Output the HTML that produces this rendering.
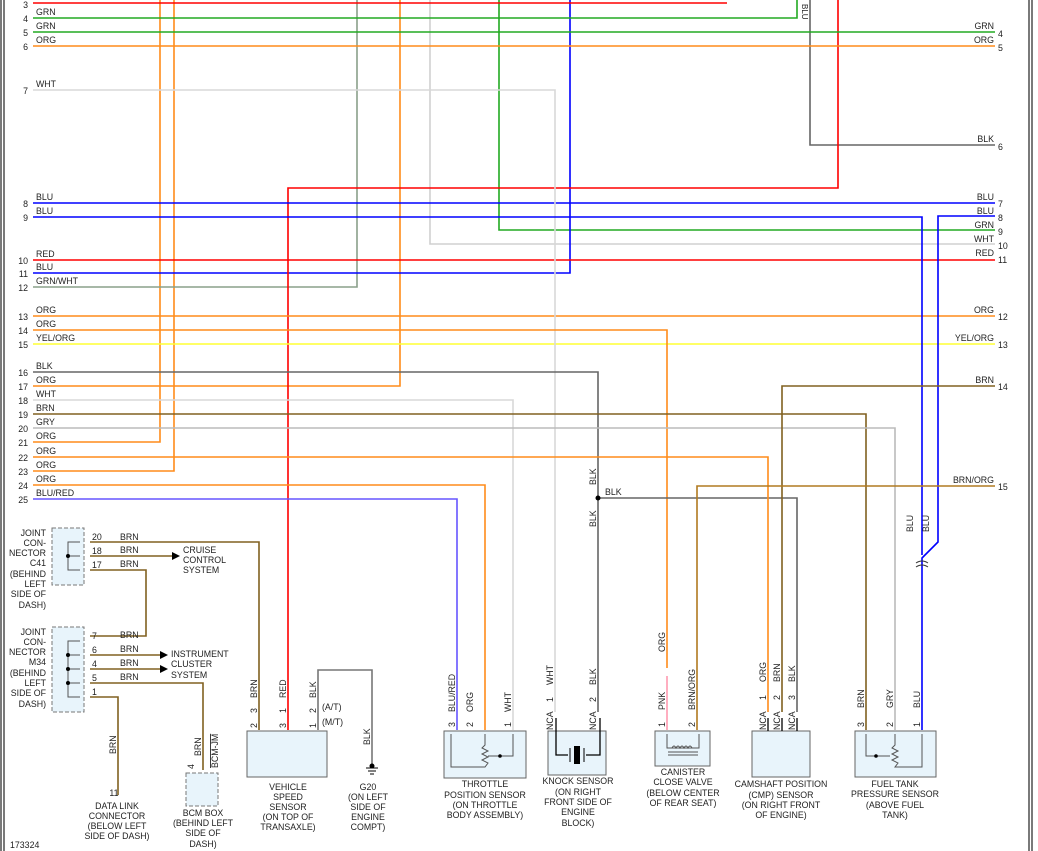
<!DOCTYPE html>
<html><head><meta charset="utf-8"><style>
html,body{margin:0;padding:0;background:#fff}
svg{display:block}
text{font-family:"Liberation Sans",sans-serif;font-size:8.8px;fill:#222}
.w{fill:none;stroke-width:1.6}
</style></head><body>
<svg width="1038" height="851" viewBox="0 0 1038 851" xmlns="http://www.w3.org/2000/svg">
<rect width="1038" height="851" fill="#fff"/>
<line x1="1" y1="0" x2="1" y2="851" stroke="#222" stroke-width="1.2"/>
<line x1="4" y1="0" x2="4" y2="851" stroke="#222" stroke-width="1.2"/>
<line x1="1029" y1="0" x2="1029" y2="851" stroke="#222" stroke-width="1.2"/>
<line x1="1032" y1="0" x2="1032" y2="851" stroke="#222" stroke-width="1.2"/>

<!-- verticals from top -->
<polyline class="w" stroke="#ff8c1a" points="33,442 160,442 160,0"/>
<polyline class="w" stroke="#ff8c1a" points="33,471 174,471 174,0"/>
<polyline class="w" stroke="#ff8c1a" points="33,386 400,386 400,0"/>
<polyline class="w" stroke="#8aa08a" points="33,287 357,287 357,0"/>
<polyline class="w" stroke="#d0d0d0" points="430,0 430,244 995,244"/>
<polyline class="w" stroke="#22aa22" points="499,0 499,230 995,230"/>
<polyline class="w" stroke="#0000ff" points="33,273 570,273 570,0"/>
<polyline class="w" stroke="#666" points="810,0 810,145 995,145"/>
<polyline class="w" stroke="#ff0000" points="838,0 838,188 288,188 288,730"/>
<polyline class="w" stroke="#ff0000" points="33,3 727,3"/>
<polyline class="w" stroke="#22aa22" points="33,18 797,18 797,0"/>
<text x="802" y="4" transform="rotate(90 802 4)" style="font-size:8px">BLU</text>

<!-- straight-through -->
<line class="w" stroke="#22aa22" x1="33" y1="32" x2="995" y2="32"/>
<line class="w" stroke="#ff8c1a" x1="33" y1="46" x2="995" y2="46"/>
<line class="w" stroke="#0000ff" x1="33" y1="203" x2="995" y2="203"/>
<line class="w" stroke="#ff0000" x1="33" y1="260" x2="995" y2="260"/>
<line class="w" stroke="#ff8c1a" x1="33" y1="316" x2="995" y2="316"/>
<line class="w" stroke="#ffff33" x1="33" y1="344" x2="995" y2="344"/>

<polyline class="w" stroke="#d8d8d8" points="33,90 555,90 555,712"/>
<polyline class="w" stroke="#0000ff" points="33,217 922,217 922,555"/>
<polyline class="w" stroke="#0000ff" points="995,216 938,216 938,542 922,558 922,730"/>
<polyline class="w" stroke="#ff8c1a" points="33,330 667,330 667,668"/>
<polyline class="w" stroke="#ff9ab0" points="667,676 667,730"/>
<polyline class="w" stroke="#666" points="33,372 598,372 598,712"/>
<polyline class="w" stroke="#666" points="598,498 797,498 797,712"/>
<circle cx="598" cy="498" r="2.5" fill="#000"/>
<polyline class="w" stroke="#d8d8d8" points="33,400 513,400 513,730"/>
<polyline class="w" stroke="#806020" points="33,414 866,414 866,730"/>
<polyline class="w" stroke="#bbb" points="33,428 895,428 895,730"/>
<polyline class="w" stroke="#ff8c1a" points="33,457 768,457 768,712"/>
<polyline class="w" stroke="#ff8c1a" points="33,485 485,485 485,730"/>
<polyline class="w" stroke="#6655ff" points="33,499 457,499 457,730"/>
<polyline class="w" stroke="#806020" points="995,386 782,386 782,712"/>
<polyline class="w" stroke="#b07a20" points="995,486 697,486 697,730"/>

<!-- left labels -->
<g text-anchor="end">
<text x="28" y="8">3</text><text x="28" y="22">4</text><text x="28" y="36">5</text><text x="28" y="50">6</text>
<text x="28" y="94">7</text><text x="28" y="207">8</text><text x="28" y="221">9</text><text x="28" y="264">10</text>
<text x="28" y="277">11</text><text x="28" y="291">12</text><text x="28" y="320">13</text><text x="28" y="334">14</text>
<text x="28" y="348">15</text><text x="28" y="376">16</text><text x="28" y="390">17</text><text x="28" y="404">18</text>
<text x="28" y="418">19</text><text x="28" y="432">20</text><text x="28" y="446">21</text><text x="28" y="461">22</text>
<text x="28" y="475">23</text><text x="28" y="489">24</text><text x="28" y="503">25</text>
</g>
<g>
<text x="36" y="15">GRN</text><text x="36" y="29">GRN</text><text x="36" y="43">ORG</text><text x="36" y="87">WHT</text>
<text x="36" y="200">BLU</text><text x="36" y="214">BLU</text><text x="36" y="257">RED</text><text x="36" y="270">BLU</text>
<text x="36" y="284">GRN/WHT</text><text x="36" y="313">ORG</text><text x="36" y="327">ORG</text><text x="36" y="341">YEL/ORG</text>
<text x="36" y="369">BLK</text><text x="36" y="383">ORG</text><text x="36" y="397">WHT</text><text x="36" y="411">BRN</text>
<text x="36" y="425">GRY</text><text x="36" y="439">ORG</text><text x="36" y="454">ORG</text><text x="36" y="468">ORG</text>
<text x="36" y="482">ORG</text><text x="36" y="496">BLU/RED</text>
</g>
<!-- right labels -->
<g>
<text x="998" y="37">4</text><text x="998" y="51">5</text><text x="998" y="150">6</text><text x="998" y="207">7</text>
<text x="998" y="221">8</text><text x="998" y="235">9</text><text x="998" y="249">10</text><text x="998" y="263">11</text>
<text x="998" y="320">12</text><text x="998" y="348">13</text><text x="998" y="390">14</text><text x="998" y="490">15</text>
</g>
<g text-anchor="end">
<text x="994" y="29">GRN</text><text x="994" y="43">ORG</text><text x="994" y="142">BLK</text><text x="994" y="200">BLU</text>
<text x="994" y="214">BLU</text><text x="994" y="228">GRN</text><text x="994" y="242">WHT</text><text x="994" y="256">RED</text>
<text x="994" y="313">ORG</text><text x="994" y="341">YEL/ORG</text><text x="994" y="383">BRN</text><text x="994" y="483">BRN/ORG</text>
</g>
<text x="605" y="495">BLK</text>
<text x="596" y="485" transform="rotate(-90 596 485)">BLK</text>
<text x="596" y="527" transform="rotate(-90 596 527)">BLK</text>
<text x="913" y="532" transform="rotate(-90 913 532)">BLU</text>
<text x="929" y="532" transform="rotate(-90 929 532)">BLU</text>
<path d="M916,563 q6,-4 12,0 M916,567 q6,-4 12,0" stroke="#333" fill="none"/>

<!-- C41 -->
<rect x="52" y="528" width="32" height="57" fill="#e8f4fb" stroke="#777" stroke-dasharray="4,2"/>
<polyline fill="none" stroke="#555" points="80,542 68,542 68,570 80,570"/>
<line x1="68" y1="556" x2="80" y2="556" stroke="#555"/><circle cx="68" cy="556" r="2" fill="#000"/>
<polyline class="w" stroke="#806020" points="90,542 259,542 259,730"/>
<line class="w" stroke="#806020" x1="90" y1="556" x2="172" y2="556"/>
<polygon points="172,552 180,556 172,560" fill="#000"/>
<polyline class="w" stroke="#806020" points="90,570 146,570 146,636 90,636"/>
<text x="92" y="540">20</text><text x="92" y="554">18</text><text x="92" y="568">17</text>
<text x="120" y="540">BRN</text><text x="120" y="553">BRN</text><text x="120" y="567">BRN</text>
<text x="183" y="553">CRUISE</text><text x="183" y="563">CONTROL</text><text x="183" y="573">SYSTEM</text>
<g text-anchor="end"><text x="46" y="536">JOINT</text><text x="46" y="546">CON-</text><text x="46" y="556">NECTOR</text><text x="46" y="566">C41</text><text x="46" y="577">(BEHIND</text><text x="46" y="587">LEFT</text><text x="46" y="597">SIDE OF</text><text x="46" y="608">DASH)</text></g>
<!-- M34 -->
<rect x="52" y="627" width="32" height="85" fill="#e8f4fb" stroke="#777" stroke-dasharray="4,2"/>
<polyline fill="none" stroke="#555" points="80,641 68,641 68,697 80,697"/>
<line x1="68" y1="655" x2="80" y2="655" stroke="#555"/><line x1="68" y1="669" x2="80" y2="669" stroke="#555"/><line x1="68" y1="683" x2="80" y2="683" stroke="#555"/>
<circle cx="68" cy="655" r="2" fill="#000"/><circle cx="68" cy="669" r="2" fill="#000"/><circle cx="68" cy="683" r="2" fill="#000"/>
<line class="w" stroke="#806020" x1="90" y1="655" x2="160" y2="655"/><polygon points="160,651 168,655 160,659" fill="#000"/>
<line class="w" stroke="#806020" x1="90" y1="669" x2="160" y2="669"/><polygon points="160,665 168,669 160,673" fill="#000"/>
<polyline class="w" stroke="#806020" points="90,683 203,683 203,770"/>
<polyline class="w" stroke="#806020" points="90,697 118,697 118,795"/>
<text x="92" y="639">7</text><text x="92" y="653">6</text><text x="92" y="667">4</text><text x="92" y="681">5</text><text x="92" y="695">1</text>
<text x="120" y="638">BRN</text><text x="120" y="652">BRN</text><text x="120" y="666">BRN</text><text x="120" y="680">BRN</text>
<text x="171" y="657">INSTRUMENT</text><text x="171" y="667">CLUSTER</text><text x="171" y="678">SYSTEM</text>
<g text-anchor="end"><text x="46" y="635">JOINT</text><text x="46" y="645">CON-</text><text x="46" y="655">NECTOR</text><text x="46" y="665">M34</text><text x="46" y="676">(BEHIND</text><text x="46" y="686">LEFT</text><text x="46" y="696">SIDE OF</text><text x="46" y="707">DASH)</text></g>
<text x="116" y="754" transform="rotate(-90 116 754)">BRN</text>
<text x="114" y="796" text-anchor="middle">11</text>
<g text-anchor="middle"><text x="117" y="809">DATA LINK</text><text x="117" y="819">CONNECTOR</text><text x="117" y="829">(BELOW LEFT</text><text x="117" y="839">SIDE OF DASH)</text></g>
<!-- BCM -->
<rect x="186" y="773" width="32" height="33" fill="#e8f4fb" stroke="#777" stroke-dasharray="4,2"/>
<text x="201" y="756" transform="rotate(-90 201 756)">BRN</text>
<text x="218" y="768" transform="rotate(-90 218 768)" style="text-decoration:overline">BCM-JM</text>
<text x="194" y="769" transform="rotate(-90 194 769)">4</text>
<g text-anchor="middle"><text x="203" y="816">BCM BOX</text><text x="203" y="826">(BEHIND LEFT</text><text x="203" y="836">SIDE OF</text><text x="203" y="847">DASH)</text></g>
<!-- VSS -->
<rect x="247" y="731" width="80" height="46" fill="#e8f4fb" stroke="#666"/>
<polyline class="w" stroke="#777" points="318,730 318,670 372,670 372,765"/>
<path d="M366,768 h12 M368,771 h8 M370,774 h4" stroke="#000"/><circle cx="372" cy="766" r="2.5" fill="#000"/>
<text x="257" y="698" transform="rotate(-90 257 698)">BRN</text><text x="286" y="698" transform="rotate(-90 286 698)">RED</text><text x="316" y="698" transform="rotate(-90 316 698)">BLK</text>
<text x="257" y="713" transform="rotate(-90 257 713)">3</text><text x="286" y="713" transform="rotate(-90 286 713)">1</text><text x="316" y="713" transform="rotate(-90 316 713)">2</text>
<text x="257" y="728" transform="rotate(-90 257 728)">2</text><text x="286" y="728" transform="rotate(-90 286 728)">3</text><text x="316" y="728" transform="rotate(-90 316 728)">1</text>
<text x="322" y="710">(A/T)</text><text x="322" y="725">(M/T)</text>
<text x="370" y="745" transform="rotate(-90 370 745)">BLK</text>
<g text-anchor="middle"><text x="288" y="790">VEHICLE</text><text x="288" y="800">SPEED</text><text x="288" y="810">SENSOR</text><text x="288" y="820">(ON TOP OF</text><text x="288" y="830">TRANSAXLE)</text>
<text x="368" y="790">G20</text><text x="368" y="800">(ON LEFT</text><text x="368" y="810">SIDE OF</text><text x="368" y="820">ENGINE</text><text x="368" y="830">COMPT)</text></g>
<!-- TPS -->
<rect x="444" y="731" width="82" height="47" fill="#e8f4fb" stroke="#666"/>
<polyline fill="none" stroke="#555" points="451,734 451,767 475,767"/>
<polyline fill="none" stroke="#555" points="485,734 485,745 482,748 488,751 482,754 488,757 482,760 488,763 485,767 475,767"/>
<polyline fill="none" stroke="#555" points="513,734 513,756 488,756"/><circle cx="500" cy="756" r="1.8" fill="#000"/>
<text x="455" y="712" transform="rotate(-90 455 712)">BLU/RED</text><text x="473" y="712" transform="rotate(-90 473 712)">ORG</text><text x="511" y="712" transform="rotate(-90 511 712)">WHT</text>
<text x="455" y="727" transform="rotate(-90 455 727)">3</text><text x="473" y="727" transform="rotate(-90 473 727)">2</text><text x="511" y="727" transform="rotate(-90 511 727)">1</text>
<g text-anchor="middle"><text x="485" y="787">THROTTLE</text><text x="485" y="798">POSITION SENSOR</text><text x="485" y="808">(ON THROTTLE</text><text x="485" y="818">BODY ASSEMBLY)</text></g>
<!-- Knock -->
<rect x="548" y="731" width="58" height="44" fill="#e8f4fb" stroke="#666"/>
<polyline fill="none" stroke="#000" stroke-width="1.3" points="556,718 556,755 568,755"/>
<polyline fill="none" stroke="#000" stroke-width="1.3" points="600,718 600,755 586,755"/>
<line x1="570" y1="748" x2="570" y2="762" stroke="#000"/><rect x="574" y="746" width="6" height="18" fill="#000"/><line x1="584" y1="748" x2="584" y2="762" stroke="#000"/>
<text x="553" y="685" transform="rotate(-90 553 685)">WHT</text><text x="596" y="685" transform="rotate(-90 596 685)">BLK</text>
<text x="553" y="702" transform="rotate(-90 553 702)">1</text><text x="596" y="702" transform="rotate(-90 596 702)">2</text>
<text x="553" y="730" transform="rotate(-90 553 730)">NCA</text><text x="596" y="730" transform="rotate(-90 596 730)">NCA</text>
<g text-anchor="middle"><text x="578" y="784">KNOCK SENSOR</text><text x="578" y="795">(ON RIGHT</text><text x="578" y="805">FRONT SIDE OF</text><text x="578" y="815">ENGINE</text><text x="578" y="826">BLOCK)</text></g>
<!-- Canister -->
<rect x="655" y="731" width="55" height="35" fill="#e8f4fb" stroke="#666"/>
<polyline fill="none" stroke="#555" points="667,734 667,748 699,748 699,734"/>
<path d="M672,748 q2,-4 4,0 q2,-4 4,0 q2,-4 4,0 q2,-4 4,0 q2,-4 4,0" fill="none" stroke="#555"/>
<path d="M668,752 h30 M668,755 h30" stroke="#555"/>
<text x="665" y="652" transform="rotate(-90 665 652)">ORG</text>
<text x="665" y="710" transform="rotate(-90 665 710)">PNK</text><text x="695" y="710" transform="rotate(-90 695 710)">BRN/ORG</text>
<text x="665" y="727" transform="rotate(-90 665 727)">1</text><text x="695" y="727" transform="rotate(-90 695 727)">2</text>
<g text-anchor="middle"><text x="683" y="775">CANISTER</text><text x="683" y="785">CLOSE VALVE</text><text x="683" y="796">(BELOW CENTER</text><text x="683" y="806">OF REAR SEAT)</text></g>
<!-- CMP -->
<rect x="752" y="731" width="58" height="46" fill="#e8f4fb" stroke="#666"/>
<path d="M768,718 V731 M782,718 V731 M797,718 V731" stroke="#000" stroke-width="1.3"/>
<text x="766" y="682" transform="rotate(-90 766 682)">ORG</text><text x="780" y="682" transform="rotate(-90 780 682)">BRN</text><text x="795" y="682" transform="rotate(-90 795 682)">BLK</text>
<text x="766" y="700" transform="rotate(-90 766 700)">1</text><text x="780" y="700" transform="rotate(-90 780 700)">2</text><text x="795" y="700" transform="rotate(-90 795 700)">3</text>
<text x="766" y="730" transform="rotate(-90 766 730)">NCA</text><text x="780" y="730" transform="rotate(-90 780 730)">NCA</text><text x="795" y="730" transform="rotate(-90 795 730)">NCA</text>
<g text-anchor="middle"><text x="781" y="787">CAMSHAFT POSITION</text><text x="781" y="798">(CMP) SENSOR</text><text x="781" y="808">(ON RIGHT FRONT</text><text x="781" y="818">OF ENGINE)</text></g>
<!-- Fuel tank -->
<rect x="855" y="731" width="81" height="46" fill="#e8f4fb" stroke="#666"/>
<polyline fill="none" stroke="#555" points="866,734 866,756 890,756"/><circle cx="876" cy="756" r="1.8" fill="#000"/>
<polyline fill="none" stroke="#555" points="895,734 895,745 892,748 898,751 892,754 898,757 892,760 898,763 895,767 922,767 922,734"/>
<text x="864" y="708" transform="rotate(-90 864 708)">BRN</text><text x="893" y="708" transform="rotate(-90 893 708)">GRY</text><text x="920" y="708" transform="rotate(-90 920 708)">BLU</text>
<text x="864" y="727" transform="rotate(-90 864 727)">3</text><text x="893" y="727" transform="rotate(-90 893 727)">2</text><text x="920" y="727" transform="rotate(-90 920 727)">1</text>
<g text-anchor="middle"><text x="895" y="787">FUEL TANK</text><text x="895" y="797">PRESSURE SENSOR</text><text x="895" y="808">(ABOVE FUEL</text><text x="895" y="818">TANK)</text></g>
<text x="10" y="848">173324</text>
</svg>
</body></html>
